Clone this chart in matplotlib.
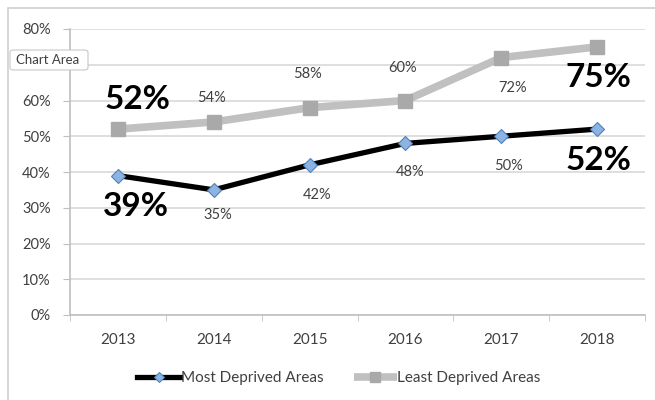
import matplotlib
matplotlib.use("Agg")
import matplotlib.pyplot as plt
from matplotlib.patches import FancyBboxPatch, Rectangle

years = ["2013", "2014", "2015", "2016", "2017", "2018"]
most_deprived = [39, 35, 42, 48, 50, 52]
least_deprived = [52, 54, 58, 60, 72, 75]
y_ticks = [0, 10, 20, 30, 40, 50, 60, 70, 80]

plt.rcParams["font.family"] = ["Lato", "DejaVu Sans"]
TEXT = "#404040"

fig = plt.figure(figsize=(6.55, 4.0), dpi=100)
ax = fig.add_axes([70 / 655, 1 - 315 / 400, 575 / 655, (315 - 29) / 400])

x = list(range(len(years)))

ax.plot(x, least_deprived, color="#c0c0c0", lw=5.5, marker="s", ms=10,
        mfc="#a9a9a9", mec="#a9a9a9", solid_capstyle="butt", zorder=3,
        label="Least Deprived Areas")
ax.plot(x, most_deprived, color="black", lw=3.8, marker="D", ms=7,
        mfc="#8db3e2", mec="#4f81bd", mew=0.8, zorder=4,
        label="Most Deprived Areas")

ax.set_xlim(-0.5, len(years) - 0.5)
ax.set_ylim(0, 80)
ax.set_yticks(y_ticks)
ax.set_yticklabels([f"{t}%" for t in y_ticks], fontsize=10.5, color=TEXT)
ax.set_xticks(x)
ax.set_xticklabels(years, fontsize=11, color=TEXT)
ax.set_xticks([i - 0.5 for i in range(len(years) + 1)], minor=True)
ax.tick_params(axis="x", which="major", length=0, pad=13)
ax.tick_params(axis="x", which="minor", length=4, color="#bfbfbf", direction="out")
ax.tick_params(axis="y", length=5, color="#bfbfbf", pad=9)

ax.grid(axis="y", color="#d9d9d9", lw=1.2, zorder=0)
ax.set_axisbelow(True)
for side in ["top", "right"]:
    ax.spines[side].set_visible(False)
for side in ["left", "bottom"]:
    ax.spines[side].set_color("#bfbfbf")
    ax.spines[side].set_linewidth(1.2)

# Data labels: large bold at the end points, small for the years between
big = dict(fontsize=24, fontweight="bold", color="black", ha="center", va="center",
           textcoords="offset pixels")
small = dict(fontsize=10.5, color=TEXT, ha="center", va="center",
             textcoords="offset pixels")

ax.annotate(f"{least_deprived[0]}%", (0, least_deprived[0]), xytext=(20, 30), **big)
ax.annotate(f"{least_deprived[-1]}%", (5, least_deprived[-1]), xytext=(1, -31), **big)
ax.annotate(f"{most_deprived[0]}%", (0, most_deprived[0]), xytext=(18, -31), **big)
ax.annotate(f"{most_deprived[-1]}%", (5, most_deprived[-1]), xytext=(1, -31), **big)

least_offsets = [None, (-2, 24), (-2, 34), (-3, 33), (11, -30), None]
most_offsets = [None, (4, -25), (8, -30), (5, -29), (7, -30), None]
for i in range(1, 5):
    ax.annotate(f"{least_deprived[i]}%", (i, least_deprived[i]), xytext=least_offsets[i], **small)
    ax.annotate(f"{most_deprived[i]}%", (i, most_deprived[i]), xytext=most_offsets[i], **small)

handles, labels = ax.get_legend_handles_labels()
leg = fig.legend(handles[::-1], labels[::-1], loc="center", bbox_to_anchor=(339 / 655, 1 - 378 / 400),
                 ncol=2, frameon=False, fontsize=11, handlelength=2.8, columnspacing=2.0,
                 handletextpad=0.05, markerscale=0.7)
for t in leg.get_texts():
    t.set_color(TEXT)

# Chart area frame
fig.patches.append(Rectangle((8 / 655, -0.02), 1.0, 1 - 8 / 400 + 0.02, transform=fig.transFigure,
                             fill=False, ec="#d0d0d0", lw=1.2))

# "Chart Area" tooltip
fig.patches.append(FancyBboxPatch((10 / 655, 1 - 70 / 400), 78 / 655, 20 / 400,
                                  boxstyle="round,pad=0,rounding_size=0.006",
                                  transform=fig.transFigure, fc="white", ec="#c8c8c8", lw=0.8,
                                  zorder=10))
fig.text(48 / 655, 1 - 60.5 / 400, "Chart Area", fontsize=9.5, color=TEXT,
         ha="center", va="center", zorder=11)

fig.savefig("out.png", dpi=100)
